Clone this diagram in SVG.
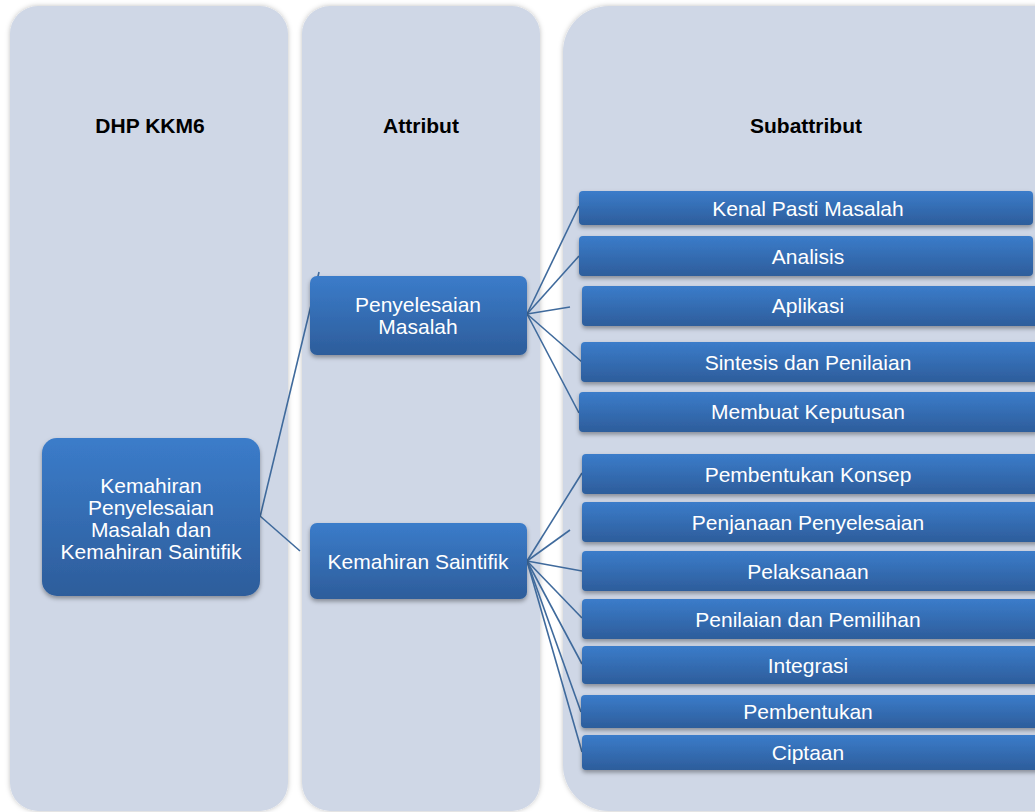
<svg xmlns="http://www.w3.org/2000/svg" width="1035" height="812" viewBox="0 0 1035 812">
<defs>
<linearGradient id="boxGrad" x1="0" y1="0" x2="0" y2="1">
<stop offset="0" stop-color="#3b7cca"/>
<stop offset="1" stop-color="#2d5d9b"/>
</linearGradient>
<filter id="colShadow" x="-5%" y="-5%" width="110%" height="110%">
<feDropShadow dx="0" dy="0" stdDeviation="2.5" flood-color="#000" flood-opacity="0.25"/>
</filter>
<filter id="boxShadow" x="-10%" y="-20%" width="120%" height="150%">
<feDropShadow dx="0" dy="2.5" stdDeviation="2" flood-color="#000" flood-opacity="0.35"/>
</filter>
</defs>
<style>
.col{fill:#cfd7e6;filter:url(#colShadow);}
.title{font-family:"Liberation Sans",Arial,sans-serif;font-size:21px;font-weight:bold;fill:#000;text-anchor:middle;}
.box{fill:url(#boxGrad);filter:url(#boxShadow);}
.lbl{font-family:"Liberation Sans",Arial,sans-serif;font-size:21px;fill:#fff;text-anchor:middle;dominant-baseline:central;}
.conn line{stroke:#3f6a9c;stroke-width:1.6;fill:none;}
</style>
<rect width="1035" height="812" fill="#ffffff"/>
<g id="columns">
<rect class="col" x="10" y="6" width="278" height="805" rx="28" ry="28"/>
<rect class="col" x="302" y="6" width="238" height="805" rx="28" ry="28"/>
<rect class="col" x="563" y="6" width="520" height="805" rx="46" ry="46"/>
<text class="title" x="150" y="133">DHP KKM6</text>
<text class="title" x="421" y="133">Attribut</text>
<text class="title" x="806" y="133">Subattribut</text>
</g>
<g id="connectors" class="conn">
<line x1="260" y1="517" x2="319" y2="272"/>
<line x1="260" y1="516" x2="300" y2="551"/>
<line x1="527" y1="314" x2="579" y2="206"/>
<line x1="527" y1="314" x2="579" y2="256"/>
<line x1="527" y1="314" x2="570" y2="307"/>
<line x1="527" y1="314" x2="582" y2="362"/>
<line x1="527" y1="314" x2="579" y2="413"/>
<line x1="527" y1="561" x2="582" y2="473"/>
<line x1="527" y1="561" x2="570" y2="530"/>
<line x1="527" y1="561" x2="582" y2="571"/>
<line x1="527" y1="561" x2="582" y2="618"/>
<line x1="527" y1="561" x2="582" y2="664"/>
<line x1="527" y1="561" x2="581" y2="712"/>
<line x1="527" y1="561" x2="582" y2="752"/>
</g>
<g id="n-root">
<rect class="box" x="42" y="438" width="218" height="158" rx="15" ry="15"/>
<text class="lbl" x="151" y="485">Kemahiran</text>
<text class="lbl" x="151" y="507">Penyelesaian</text>
<text class="lbl" x="151" y="529">Masalah dan</text>
<text class="lbl" x="151" y="551">Kemahiran Saintifik</text>
</g>
<g id="n-penyelesaian">
<rect class="box" x="310" y="276" width="217" height="79" rx="7" ry="7"/>
<text class="lbl" x="418" y="304">Penyelesaian</text>
<text class="lbl" x="418" y="326">Masalah</text>
</g>
<g id="n-saintifik">
<rect class="box" x="310" y="523" width="217" height="76" rx="7" ry="7"/>
<text class="lbl" x="418" y="561">Kemahiran Saintifik</text>
</g>
<g id="n-kenal">
<rect class="box" x="579" y="191" width="454" height="34" rx="4" ry="4"/>
<text class="lbl" x="808" y="208">Kenal Pasti Masalah</text>
</g>
<g id="n-analisis">
<rect class="box" x="579" y="236" width="454" height="40" rx="4" ry="4"/>
<text class="lbl" x="808" y="256">Analisis</text>
</g>
<g id="n-aplikasi">
<rect class="box" x="582" y="286" width="460" height="40" rx="4" ry="4"/>
<text class="lbl" x="808" y="305">Aplikasi</text>
</g>
<g id="n-sintesis">
<rect class="box" x="581" y="342" width="460" height="40" rx="4" ry="4"/>
<text class="lbl" x="808" y="362">Sintesis dan Penilaian</text>
</g>
<g id="n-membuat">
<rect class="box" x="579" y="392" width="460" height="40" rx="4" ry="4"/>
<text class="lbl" x="808" y="411">Membuat Keputusan</text>
</g>
<g id="n-konsep">
<rect class="box" x="582" y="454" width="460" height="40" rx="4" ry="4"/>
<text class="lbl" x="808" y="474">Pembentukan Konsep</text>
</g>
<g id="n-penjanaan">
<rect class="box" x="582" y="502" width="460" height="40" rx="4" ry="4"/>
<text class="lbl" x="808" y="522">Penjanaan Penyelesaian</text>
</g>
<g id="n-pelaksanaan">
<rect class="box" x="582" y="551" width="460" height="40" rx="4" ry="4"/>
<text class="lbl" x="808" y="571">Pelaksanaan</text>
</g>
<g id="n-penilaian">
<rect class="box" x="582" y="599" width="460" height="40" rx="4" ry="4"/>
<text class="lbl" x="808" y="619">Penilaian dan Pemilihan</text>
</g>
<g id="n-integrasi">
<rect class="box" x="582" y="646" width="460" height="38" rx="4" ry="4"/>
<text class="lbl" x="808" y="665">Integrasi</text>
</g>
<g id="n-pembentukan">
<rect class="box" x="581" y="695" width="460" height="33" rx="4" ry="4"/>
<text class="lbl" x="808" y="711">Pembentukan</text>
</g>
<g id="n-ciptaan">
<rect class="box" x="582" y="735" width="460" height="35" rx="4" ry="4"/>
<text class="lbl" x="808" y="752">Ciptaan</text>
</g>
</svg>
